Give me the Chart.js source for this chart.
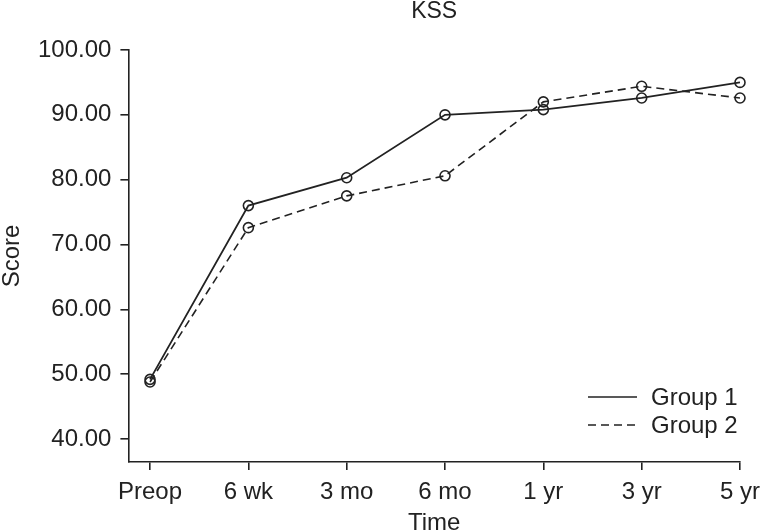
<!DOCTYPE html>
<html>
<head>
<meta charset="utf-8">
<script src="https://cdn.jsdelivr.net/npm/chart.js@4/dist/chart.umd.min.js"></script>
<style>
  html, body { margin: 0; padding: 0; background: #fff; }
  #wrap { width: 761px; height: 532px; position: relative; }
</style>
</head>
<body>
<div id="wrap"><canvas id="c"></canvas></div>
<script>
const timeLabels = ['Preop', '6 wk', '3 mo', '6 mo', '1 yr', '3 yr', '5 yr'];
const group1 = [49.2, 76.0, 80.3, 90.0, 90.8, 92.6, 95.0];
const group2 = [48.8, 72.6, 77.5, 80.6, 92.0, 94.4, 92.6];
const yTicks = [40, 50, 60, 70, 80, 90, 100];
const seriesNames = ['Group 1', 'Group 2'];

const INK = '#222222';
const FONT = '"Liberation Sans", Arial, Helvetica, sans-serif';
const FS = 24;
const toPts = arr => arr.map((v, i) => ({ x: i, y: v }));

const legendPlugin = {
  id: 'customLegend',
  afterDraw(chart) {
    const ctx = chart.ctx;
    const ca = chart.chartArea;
    ctx.save();
    chart.data.datasets.forEach((ds, i) => {
      const y = ca.bottom - 65 + i * 28;
      const x0 = ca.right - 152;
      ctx.strokeStyle = INK;
      ctx.lineWidth = 1.6;
      ctx.setLineDash(ds.borderDash || []);
      ctx.beginPath();
      ctx.moveTo(x0, y);
      ctx.lineTo(x0 + 49, y);
      ctx.stroke();
      ctx.setLineDash([]);
      ctx.fillStyle = INK;
      ctx.font = FS + 'px ' + FONT;
      ctx.textBaseline = 'middle';
      ctx.textAlign = 'left';
      ctx.fillText(ds.label, x0 + 63, y + 1);
    });
    ctx.restore();
  }
};

new Chart(document.getElementById('c'), {
  type: 'line',
  data: {
    datasets: [
      {
        label: seriesNames[0],
        data: toPts(group1),
        borderColor: INK,
        borderWidth: 1.8,
        pointRadius: 5,
        pointBorderWidth: 1.6,
        pointBorderColor: INK,
        pointBackgroundColor: 'rgba(0,0,0,0)',
        fill: false,
        tension: 0,
        clip: false
      },
      {
        label: seriesNames[1],
        data: toPts(group2),
        borderColor: INK,
        borderWidth: 1.6,
        borderDash: [8, 5],
        pointRadius: 5,
        pointBorderWidth: 1.6,
        pointBorderColor: INK,
        pointBackgroundColor: 'rgba(0,0,0,0)',
        fill: false,
        tension: 0,
        clip: false
      }
    ]
  },
  options: {
    responsive: true,
    maintainAspectRatio: false,
    animation: false,
    layout: { padding: { left: 0, right: 0, top: 0, bottom: 0 } },
    plugins: {
      legend: { display: false },
      tooltip: { enabled: false },
      title: {
        display: true,
        text: 'KSS',
        fullSize: false,
        color: INK,
        font: { family: FONT, size: 23, weight: 'normal', lineHeight: 1.0 },
        padding: { top: 0, bottom: 27 }
      }
    },
    scales: {
      x: {
        type: 'linear',
        min: -0.22,
        max: 6,
        afterBuildTicks: s => { s.ticks = timeLabels.map((_, i) => ({ value: i })); },
        afterFit: s => { s.paddingRight = 21; },
        ticks: {
          color: INK,
          font: { family: FONT, size: FS, lineHeight: 1.0 },
          padding: 10,
          maxRotation: 0,
          autoSkip: false,
          callback: v => timeLabels[v]
        },
        grid: { display: true, drawOnChartArea: false, drawTicks: true, tickLength: 8, color: INK, lineWidth: 1.6 },
        border: { display: true, color: INK, width: 1.6 },
        title: {
          display: true,
          text: 'Time',
          color: INK,
          font: { family: FONT, size: FS, lineHeight: 0.75 },
          padding: { top: 0, bottom: 0 }
        }
      },
      y: {
        type: 'linear',
        min: 36.46,
        max: 100,
        afterBuildTicks: s => { s.ticks = yTicks.map(v => ({ value: v })); },
        ticks: {
          color: INK,
          font: { family: FONT, size: FS },
          padding: 9,
          callback: v => Number(v).toFixed(2)
        },
        grid: { display: true, drawOnChartArea: false, drawTicks: true, tickLength: 8, color: INK, lineWidth: 1.6 },
        border: { display: true, color: INK, width: 1.6 },
        title: {
          display: true,
          text: 'Score',
          color: INK,
          font: { family: FONT, size: FS, lineHeight: 1.0 },
          padding: { top: 0, bottom: 5 }
        }
      }
    }
  },
  plugins: [legendPlugin]
});
</script>
</body>
</html>
